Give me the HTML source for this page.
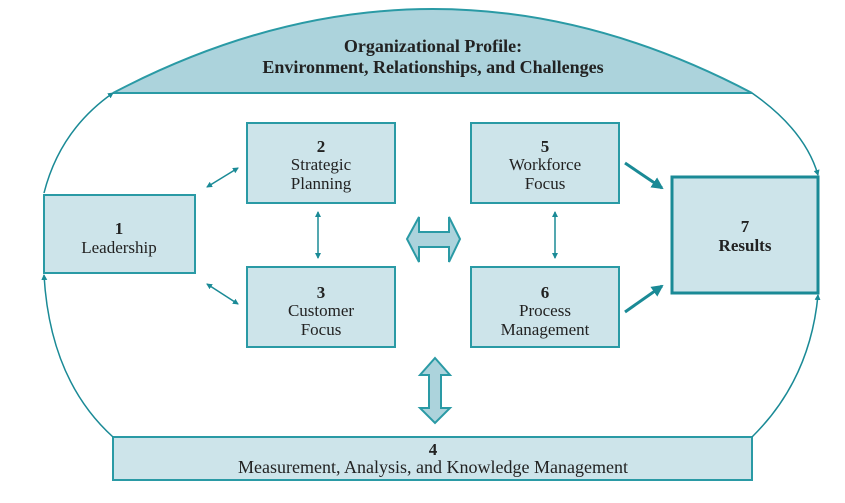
<!DOCTYPE html>
<html><head><meta charset="utf-8"><style>
html,body{margin:0;padding:0;background:#fff;}
svg{display:block;}
text{font-family:"Liberation Serif",serif;fill:#222;}
</style></head><body>
<svg width="845" height="503" viewBox="0 0 845 503" xmlns="http://www.w3.org/2000/svg">
<defs>
<marker id="a" markerWidth="6" markerHeight="6" refX="5" refY="3" orient="auto-start-reverse" markerUnits="userSpaceOnUse"><path d="M0,0 L6,3 L0,6 z" fill="#1a8a96"/></marker>
<marker id="b" markerWidth="12" markerHeight="12" refX="10" refY="6" orient="auto" markerUnits="userSpaceOnUse"><path d="M0,0 L12,6 L0,12 z" fill="#1a8a96"/></marker>
</defs>
<g fill="#cde4ea" stroke="#2a9aa5" stroke-width="2">
<path d="M113,93 Q433,-75 752,93 Z" fill="#acd3dc"/>
<rect x="247" y="123" width="148" height="80"/>
<rect x="471" y="123" width="148" height="80"/>
<rect x="44" y="195" width="151" height="78"/>
<rect x="247" y="267" width="148" height="80"/>
<rect x="471" y="267" width="148" height="80"/>
<rect x="113" y="437" width="639" height="43"/>
<rect x="672" y="177" width="146" height="116" stroke="#1a8a96" stroke-width="3"/>
</g>
<g fill="none" stroke="#1a8a96" stroke-width="1.5">
<path d="M44,193 Q60,130 113,93" marker-end="url(#a)"/>
<path d="M113,437 Q50,380 44,275" marker-end="url(#a)"/>
<path d="M752,93 Q805,130 818,175" marker-end="url(#a)"/>
<path d="M752,437 Q810,380 818,295" marker-end="url(#a)"/>
<path d="M207,187 L238,168" marker-start="url(#a)" marker-end="url(#a)"/>
<path d="M207,284 L238,304" marker-start="url(#a)" marker-end="url(#a)"/>
<path d="M318,212 L318,258" marker-start="url(#a)" marker-end="url(#a)"/>
<path d="M555,212 L555,258" marker-start="url(#a)" marker-end="url(#a)"/>
</g>
<g stroke="#1a8a96" stroke-width="3">
<path d="M625,163 L662,188" marker-end="url(#b)"/>
<path d="M625,312 L662,286" marker-end="url(#b)"/>
</g>
<path d="M407,239 L419,217 L419,232 L449,232 L449,217 L460,239 L449,262 L449,247 L419,247 L419,262 Z" fill="#acd3dc" stroke="#2a9aa5" stroke-width="2"/>
<path d="M435,358 L450,375 L441,375 L441,408 L450,408 L435,423 L420,408 L429,408 L429,375 L420,375 Z" fill="#acd3dc" stroke="#2a9aa5" stroke-width="2"/>
<g text-anchor="middle" font-size="17">
<text x="433" y="52" font-weight="bold" font-size="18">Organizational Profile:</text>
<text x="433" y="73" font-weight="bold" font-size="18">Environment, Relationships, and Challenges</text>
<text x="321" y="152" font-weight="bold">2</text>
<text x="321" y="170">Strategic</text>
<text x="321" y="189">Planning</text>
<text x="545" y="152" font-weight="bold">5</text>
<text x="545" y="170">Workforce</text>
<text x="545" y="189">Focus</text>
<text x="119" y="234" font-weight="bold">1</text>
<text x="119" y="253">Leadership</text>
<text x="321" y="298" font-weight="bold">3</text>
<text x="321" y="316">Customer</text>
<text x="321" y="335">Focus</text>
<text x="545" y="298" font-weight="bold">6</text>
<text x="545" y="316">Process</text>
<text x="545" y="335">Management</text>
<text x="745" y="232" font-weight="bold">7</text>
<text x="745" y="251" font-weight="bold">Results</text>
<text x="433" y="455" font-weight="bold">4</text>
<text x="433" y="473" font-size="18">Measurement, Analysis, and Knowledge Management</text>
</g>
</svg>
</body></html>
